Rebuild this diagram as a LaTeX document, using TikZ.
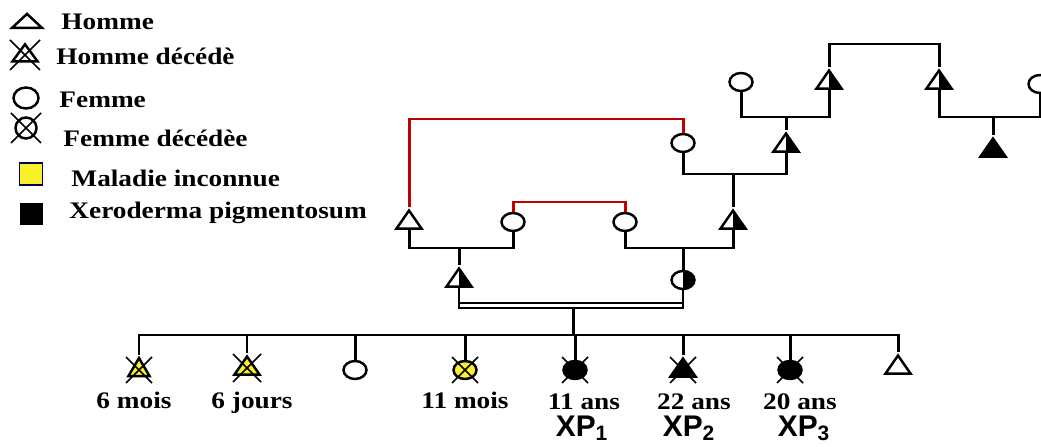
\documentclass[tikz,border=0pt]{standalone}
\usepackage{fontspec}
\setmainfont[FakeStretch=1.15]{Liberation Serif}
\newfontfamily\xpfont{Liberation Sans}
\usetikzlibrary{shapes.geometric, calc}
\definecolor{kinred}{RGB}{190,0,0}
\definecolor{sickyellow}{RGB}{250,240,40}

\begin{document}
\begin{tikzpicture}[x=0.2mm, y=-0.2mm,
  line width=1.7pt,
  male/.style={isosceles triangle, isosceles triangle stretches, shape border rotate=90, draw, fill=white, line width=1.4pt, inner sep=0pt, minimum width=5mm, minimum height=3.6mm},
  female/.style={ellipse, draw, fill=white, line width=1.4pt, inner sep=0pt, minimum width=4.6mm, minimum height=3.6mm},
  half/.style={path picture={\fill[black] (path picture bounding box.north) rectangle (path picture bounding box.south east);}},
  xp/.style={fill=black},
  sick/.style={fill=sickyellow},
  kin/.style={draw=kinred},
  xline/.style={line width=0.9pt},
  lbl/.style={font=\fontsize{13.5}{15}\selectfont\bfseries, inner sep=0pt},
  xpl/.style={font=\xpfont\fontsize{17}{19}\selectfont\bfseries, inner sep=0pt}
]
  \useasboundingbox (0,0) rectangle (1041,447);
  \clip (0,0) rectangle (1041,447);

  % Legend
  \node[male, minimum width=6mm, minimum height=2.8mm] (lh) at (27,22) {};
  \node[lbl, anchor=base west] (th) at (60,30) {Homme};
  \node[male, minimum width=5mm, minimum height=3.4mm] (lhd) at (25,55) {};
  \node[lbl, anchor=base west] (thd) at (55,65) {Homme décédè};
  \node[female, minimum width=5mm, minimum height=4.2mm] (lf) at (26,98) {};
  \node[lbl, anchor=base west] (tf) at (58,108) {Femme};
  \node[female, minimum width=4.2mm, minimum height=4.2mm] (lfd) at (26,128) {};
  \node[lbl, anchor=base west] (tfd) at (62,147) {Femme décédèe};
  \node[draw=blue!40!black, fill=sickyellow, line width=1pt, minimum width=4.6mm, minimum height=4.4mm, inner sep=0pt] (lm) at (31,174) {};
  \node[lbl, anchor=base west] (tm) at (70,187) {Maladie inconnue};
  \node[fill=black, minimum width=4.6mm, minimum height=4.4mm, inner sep=0pt] (lx) at (31,214) {};
  \node[lbl, anchor=base west] (tx) at (68,219) {Xeroderma pigmentosum};

  % Grandparents
  \node[female] (g1) at (741,82) {};
  \node[male, half] (g2) at (829,82) {};
  \node[male, half] (g3) at (939,82) {};
  \node[female] (g4) at (1040,84) {};
  \node[male, half] (g5) at (786,145) {};
  \node[male, xp] (g6) at (993,150) {};
  \node[female] (f1) at (683,143) {};

  % Parents' parents
  \node[male] (p1) at (409,222) {};
  \node[female] (p2) at (513,222) {};
  \node[female] (p3) at (625,222) {};
  \node[male, half] (p4) at (733,222) {};

  % Parents
  \node[male, half] (q1) at (459,280) {};
  \node[female, half] (q2) at (683,280) {};

  % Children
  \node[male, sick, minimum width=4.2mm] (c1) at (139,370) {};
  \node[male, sick] (c2) at (247,368) {};
  \node[female] (c3) at (355,370) {};
  \node[female, sick] (c4) at (465,370) {};
  \node[female, xp] (c5) at (575,370) {};
  \node[male, xp] (c6) at (683,370) {};
  \node[female, xp] (c7) at (790,370) {};
  \node[male] (c8) at (898,367) {};

  \node[lbl, anchor=base] (a1) at (134,408) {6 mois};
  \node[lbl, anchor=base] (a2) at (252,408) {6 jours};
  \node[lbl, anchor=base] (a4) at (465,408) {11 mois};
  \node[lbl, anchor=base] (a5) at (584,409) {11 ans};
  \node[lbl, anchor=base] (a6) at (694,409) {22 ans};
  \node[lbl, anchor=base] (a7) at (800,409) {20 ans};
  \node[xpl, anchor=base] (x5) at (582,436) {XP\textsubscript{1}};
  \node[xpl, anchor=base] (x6) at (689,436) {XP\textsubscript{2}};
  \node[xpl, anchor=base] (x7) at (804,436) {XP\textsubscript{3}};

  % Unions
  \coordinate (t1) at (884,44);
  \coordinate (u1) at (786,117);
  \coordinate (u2) at (993,117);
  \coordinate (u3) at (733,174);
  \coordinate (r1) at (546,119);
  \coordinate (r2) at (569,202);
  \coordinate (u4) at (459,248);
  \coordinate (u5) at (683,248);
  \coordinate (u6) at (573,308);
  \coordinate (u7) at (573,303);
  \coordinate (s0) at (573,335);

  \draw (g2.north) |- (t1) -| (g3.north);
  \draw (g1.south) |- (u1) -| (g2.south);
  \draw (u1) -- (g5.north);
  \draw (g3.south) |- (u2) -| (g4.south);
  \draw (u2) -- (g6.north);
  \draw (f1.south) |- (u3) -| (g5.south);
  \draw (u3) -- (p4.north);
  \draw[kin] (f1.north) |- (r1) -| (p1.north);
  \draw[kin] (p3.north) |- (r2) -| (p2.north);
  \draw (p1.south) |- (u4) -| (p2.south);
  \draw (u4) -- (q1.north);
  \draw (p3.south) |- (u5) -| (p4.south);
  \draw (u5) -- (q2.north);
  \draw[line width=1.3pt] (q1.south) |- (u6) -| (q2.south);
  \draw[line width=1.3pt] (q1 |- u7) -- (q2 |- u7);
  \draw (u6) -- (s0);
  \draw (c1.north) |- (s0) -| (c8.north);
  \foreach \c in {c2,c3,c4,c5,c6,c7}
    \draw (\c.north) -- (\c |- s0);

  % Deceased
  \foreach \n/\r in {lhd/15, lfd/15, c1/13, c2/14, c4/13, c5/13, c6/13, c7/13}{
    \draw[xline] ([shift={(-\r,-\r)}]\n.center) -- ([shift={(\r,\r)}]\n.center);
    \draw[xline] ([shift={(-\r,\r)}]\n.center) -- ([shift={(\r,-\r)}]\n.center);
  }
\end{tikzpicture}
\end{document}
